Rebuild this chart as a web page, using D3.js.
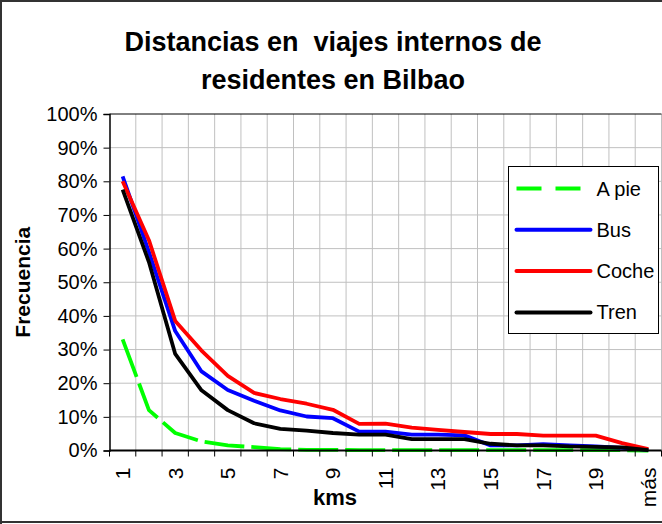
<!DOCTYPE html>
<html>
<head>
<meta charset="utf-8">
<script src="https://cdn.jsdelivr.net/npm/d3@7"></script>
<style>
  body { margin: 0; background: #fff; }
  svg { display: block; font-family: "Liberation Sans", Arial, sans-serif; }
</style>
</head>
<body>
<svg id="mainsvg" width="662" height="524"></svg>
<script>
const categories = ['1','2','3','4','5','6','7','8','9','10','11','12','13','14','15','16','17','18','19','20','más']
const aPie = [33, 12, 5.2, 2.7, 1.5, 1.0, 0.4, 0.2, 0.2, 0.1, 0.1, 0.1, 0.1, 0.1, 0.1, 0.1, 0.1, 0.1, 0.1, 0.1, 0]
const bus = [81.5, 59, 35.5, 23.5, 18, 14.8, 11.9, 10.1, 9.6, 5.6, 5.6, 4.7, 4.7, 4.5, 1.5, 1.5, 1.9, 1.5, 1.2, 0.8, 0.2]
const coche = [80, 62.5, 38.5, 29.7, 22.2, 17.1, 15.3, 13.9, 12.1, 7.9, 8.0, 6.8, 6.1, 5.5, 4.9, 4.9, 4.4, 4.4, 4.4, 2.2, 0.4]
const tren = [77.5, 56, 28.7, 17.9, 12, 8.1, 6.4, 5.9, 5.2, 4.7, 4.7, 3.4, 3.4, 3.4, 2.0, 1.5, 1.5, 1.2, 1.1, 0.9, 0.1]
const yTicks = [0, 0.1, 0.2, 0.3, 0.4, 0.5, 0.6, 0.7, 0.8, 0.9, 1]
const xLabels = ['1','3','5','7','9','11','13','15','17','19','más']

const series = [
  {name: 'A pie', values: aPie, color: '#00ff00', dash: '40,7', legendDash: '25,14'},
  {name: 'Bus', values: bus, color: '#0000ff'},
  {name: 'Coche', values: coche, color: '#ff0000'},
  {name: 'Tren', values: tren, color: '#000000'}
]

const svg = d3.select('#mainsvg')

// outer frame (right side is cut off in the original)
svg.append('path')
  .attr('d', 'M1,524 L1,1 L662,1 M0,522 L662,522')
  .attr('fill', 'none')
  .attr('stroke', '#333')
  .attr('stroke-width', 2)

let plotLeft = 109.5, plotRight = 661.5, plotTop = 114, plotBottom = 450.5

const x = d3.scaleBand().domain(categories).range([plotLeft, plotRight]).padding(0)
const y = d3.scaleLinear().domain([0, 1]).range([plotBottom, plotTop])

let boundaries = categories.map(c => x(c)).concat([plotRight])

// grid
svg.append('g').selectAll('line')
  .data(yTicks.slice(1, -1))
  .join('line')
  .attr('x1', plotLeft).attr('x2', plotRight)
  .attr('y1', d => y(d)).attr('y2', d => y(d))
  .attr('stroke', '#c0c0c0').attr('stroke-width', 1)

svg.append('g').selectAll('line')
  .data(boundaries.slice(1))
  .join('line')
  .attr('x1', d => d).attr('x2', d => d)
  .attr('y1', plotTop).attr('y2', plotBottom)
  .attr('stroke', '#c0c0c0').attr('stroke-width', 1)

svg.append('line')
  .attr('x1', plotLeft).attr('x2', plotRight)
  .attr('y1', plotTop).attr('y2', plotTop)
  .attr('stroke', '#000').attr('stroke-width', 1)

// y axis
const yAxis = svg.append('g')
  .attr('transform', `translate(${plotLeft},0)`)
  .call(d3.axisLeft(y).tickValues(yTicks).tickFormat(d3.format('.0%')).tickSize(6).tickPadding(6))
yAxis.select('.domain').attr('stroke', '#000').attr('stroke-width', 1.5)
yAxis.selectAll('.tick line').attr('stroke', '#000')
yAxis.selectAll('.tick text')
  .attr('font-size', 20)
  .attr('font-family', '"Liberation Sans", Arial, sans-serif')
  .attr('fill', '#000')

// lines
const line = d3.line()
  .x((d, i) => x(categories[i]) + x.bandwidth() / 2)
  .y(d => y(d / 100))

series.forEach(s => {
  svg.append('path')
    .datum(s.values)
    .attr('d', line)
    .attr('fill', 'none')
    .attr('stroke', s.color)
    .attr('stroke-width', 3.8)
    .attr('stroke-linejoin', 'round')
    .attr('stroke-dasharray', s.dash || null)
})

// x axis
svg.append('line')
  .attr('x1', plotLeft).attr('x2', plotRight)
  .attr('y1', plotBottom).attr('y2', plotBottom)
  .attr('stroke', '#000').attr('stroke-width', 2)

svg.append('g').selectAll('line')
  .data(boundaries)
  .join('line')
  .attr('x1', d => d).attr('x2', d => d)
  .attr('y1', plotBottom).attr('y2', plotBottom + 6)
  .attr('stroke', '#000').attr('stroke-width', 1)

const xAxis = svg.append('g')
  .attr('transform', `translate(0,${plotBottom})`)
  .call(d3.axisBottom(x).tickValues(xLabels).tickSize(0))
xAxis.select('.domain').remove()
xAxis.selectAll('.tick text')
  .attr('transform', 'rotate(-90)')
  .attr('x', -17)
  .attr('y', 0)
  .attr('dy', '0.35em')
  .attr('text-anchor', 'end')
  .attr('font-size', 21)
  .attr('font-family', '"Liberation Sans", Arial, sans-serif')
  .attr('fill', '#000')

// titles
svg.append('text')
  .attr('x', 333).attr('y', 51)
  .attr('text-anchor', 'middle')
  .attr('font-size', 27).attr('font-weight', 'bold')
  .style('white-space', 'pre')
  .text('Distancias en  viajes internos de')

svg.append('text')
  .attr('x', 333).attr('y', 89)
  .attr('text-anchor', 'middle')
  .attr('font-size', 27).attr('font-weight', 'bold')
  .text('residentes en Bilbao')

svg.append('text')
  .attr('transform', `translate(22,${(plotTop + plotBottom) / 2}) rotate(-90)`)
  .attr('text-anchor', 'middle')
  .attr('dominant-baseline', 'central')
  .attr('font-size', 21).attr('font-weight', 'bold')
  .text('Frecuencia')

svg.append('text')
  .attr('x', 335).attr('y', 505)
  .attr('text-anchor', 'middle')
  .attr('font-size', 22).attr('font-weight', 'bold')
  .text('kms')

// legend
const lg = svg.append('g').attr('transform', 'translate(508.5,166.5)')
lg.append('rect')
  .attr('width', 150).attr('height', 167)
  .attr('fill', '#fff').attr('stroke', '#000').attr('stroke-width', 1)

series.forEach((s, i) => {
  let cy = 22 + i * 41.3
  lg.append('line')
    .attr('x1', 8).attr('x2', 82)
    .attr('y1', cy).attr('y2', cy)
    .attr('stroke', s.color)
    .attr('stroke-width', 4)
    .attr('stroke-linecap', s.legendDash ? 'butt' : 'round')
    .attr('stroke-dasharray', s.legendDash || null)
  lg.append('text')
    .attr('x', 88).attr('y', cy)
    .attr('dominant-baseline', 'central')
    .attr('font-size', 20)
    .text(s.name)
})
</script>
</body>
</html>
